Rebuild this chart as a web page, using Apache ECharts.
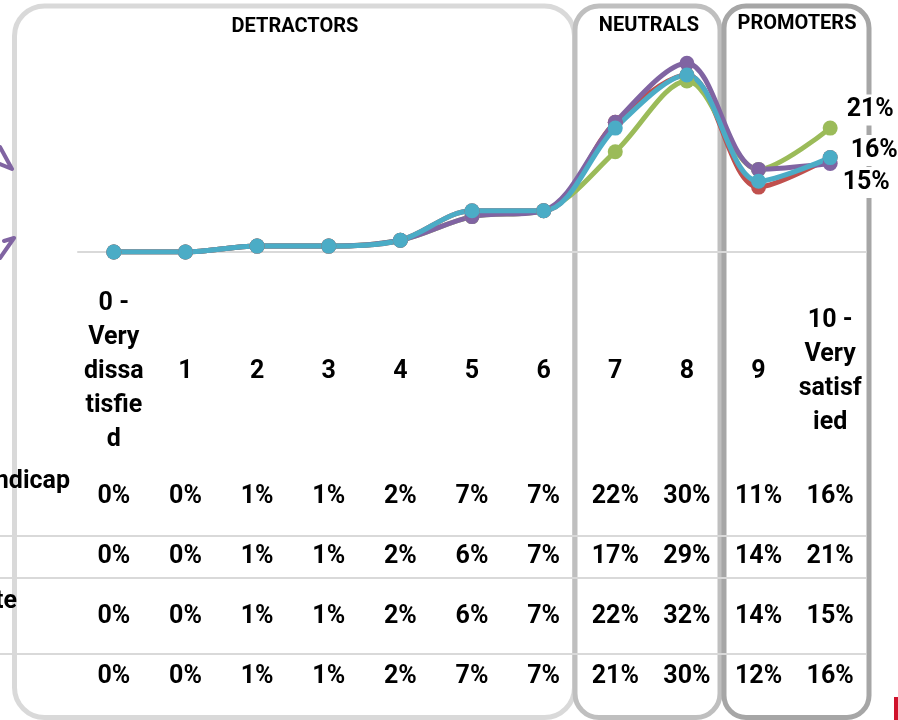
<!DOCTYPE html>
<html>
<head>
<meta charset="utf-8">
<script src="https://cdn.jsdelivr.net/npm/echarts@6/dist/echarts.min.js"></script>
<style>
html,body{margin:0;padding:0;background:#fff;}
#chart{width:898px;height:720px;}
</style>
</head>
<body>
<div id="chart"></div>
<script>
const categories = ['0 - Very dissatisfied','1','2','3','4','5','6','7','8','9','10 - Very satisfied'];
const tickLabels = ['0 -\nVery\ndissa\ntisfie\nd','1','2','3','4','5','6','7','8','9','10 -\nVery\nsatisf\nied'];
const rowLabels = ['ndicap','','te',''];
const seriesRed = [0,0,1,1,2,7,7,22,30,11,16];
const seriesGreen = [0,0,1,1,2,6,7,17,29,14,21];
const seriesPurple = [0,0,1,1,2,6,7,22,32,14,15];
const seriesBlue = [0,0,1,1,2,7,7,21,30,12,16];
const groupTitles = ['DETRACTORS','NEUTRALS','PROMOTERS'];

const FONT = 'Roboto';
const W = 'bold';
const FS = 25;
const rows = [seriesRed, seriesGreen, seriesPurple, seriesBlue];
const rowY = [497, 557, 617, 677];
const axisY = 252;

const chart = echarts.init(document.getElementById('chart'));

const xAxes = [{
  type: 'category', data: categories, boundaryGap: true, gridIndex: 0,
  axisLine: {show: true, lineStyle: {color: '#d9d9d9', width: 2}},
  axisTick: {show: false},
  axisLabel: {
    interval: 0, margin: 120, verticalAlign: 'middle', lineHeight: 34,
    fontFamily: FONT, fontSize: FS, fontWeight: W, color: '#000',
    formatter: (v, i) => tickLabels[i]
  }
}];
rows.forEach((r, k) => {
  xAxes.push({
    type: 'category', data: categories, boundaryGap: true, gridIndex: 0,
    position: 'bottom', offset: rowY[k] - axisY,
    axisLine: {show: false}, axisTick: {show: false}, splitLine: {show: false},
    axisLabel: {
      interval: 0, margin: 0, verticalAlign: 'middle',
      fontFamily: FONT, fontSize: FS, fontWeight: W, color: '#000',
      formatter: (v, i) => r[i] + '%'
    }
  });
});

function mkSeries(name, data, color, endLabel) {
  const d = data.map((v, i) => {
    if (i === data.length - 1 && endLabel) {
      return {value: v, label: Object.assign({
        show: true, position: 'right', formatter: '{c}%',
        fontFamily: FONT, fontSize: FS, fontWeight: W, color: '#000',
        backgroundColor: '#fff', padding: [3, 2, 3, 2]
      }, endLabel)};
    }
    return v;
  });
  return {
    name: name, type: 'line', data: d, smooth: 0.33,
    symbol: 'circle', symbolSize: 15,
    lineStyle: {color: color, width: 5},
    itemStyle: {color: color},
    emphasis: {disabled: true},
    z: 3
  };
}

const graphics = [
  {type: 'rect', z: 0, shape: {x: 14.5, y: 6, width: 560, height: 711.5, r: 30}, style: {fill: 'none', stroke: '#d9d9d9', lineWidth: 5}},
  {type: 'rect', z: 0, shape: {x: 575, y: 6, width: 145, height: 711.5, r: 24}, style: {fill: 'none', stroke: '#bfbfbf', lineWidth: 5}},
  {type: 'rect', z: 0, shape: {x: 724, y: 6, width: 145, height: 711.5, r: 22}, style: {fill: 'none', stroke: '#a6a6a6', lineWidth: 5}},
  {type: 'line', z: 0, shape: {x1: 0, y1: 536, x2: 866, y2: 536}, style: {stroke: '#d9d9d9', lineWidth: 2}},
  {type: 'line', z: 0, shape: {x1: 0, y1: 578, x2: 866, y2: 578}, style: {stroke: '#d9d9d9', lineWidth: 2}},
  {type: 'line', z: 0, shape: {x1: 0, y1: 654, x2: 866, y2: 654}, style: {stroke: '#d9d9d9', lineWidth: 2}},
  {type: 'text', z: 1, x: 295, y: 27, style: {text: groupTitles[0], fontFamily: FONT, fontSize: 20, fontWeight: W, fill: '#000', align: 'center', verticalAlign: 'middle'}},
  {type: 'text', z: 1, x: 649, y: 26, style: {text: groupTitles[1], fontFamily: FONT, fontSize: 20, fontWeight: W, fill: '#000', align: 'center', verticalAlign: 'middle'}},
  {type: 'text', z: 1, x: 797, y: 24, style: {text: groupTitles[2], fontFamily: FONT, fontSize: 20, fontWeight: W, fill: '#000', align: 'center', verticalAlign: 'middle'}},
  {type: 'text', z: 1, x: 70, y: 482, style: {text: rowLabels[0], fontFamily: FONT, fontSize: FS, fontWeight: W, fill: '#000', align: 'right', verticalAlign: 'middle'}},
  {type: 'text', z: 1, x: 17, y: 602, style: {text: rowLabels[2], fontFamily: FONT, fontSize: FS, fontWeight: W, fill: '#000', align: 'right', verticalAlign: 'middle'}},
  {type: 'polyline', z: 1, shape: {points: [[0, 147], [12, 169], [0, 164]]}, style: {fill: 'none', stroke: '#8064a2', lineWidth: 4, lineJoin: 'round', lineCap: 'round'}},
  {type: 'polyline', z: 1, shape: {points: [[0, 258], [14, 238], [4, 241]]}, style: {fill: 'none', stroke: '#8064a2', lineWidth: 4, lineJoin: 'round', lineCap: 'round'}},
  {type: 'rect', z: 1, shape: {x: 894, y: 697, width: 4, height: 23}, style: {fill: '#d0112b'}}
];

chart.setOption({
  animation: false,
  backgroundColor: '#fff',
  grid: {left: 78, right: 32, top: 45.5, bottom: 720 - axisY},
  xAxis: xAxes,
  yAxis: {type: 'value', min: 0, max: 35, show: false, splitLine: {show: false}},
  graphic: graphics,
  series: [
    mkSeries('Row 1', seriesRed, '#c0504d', null),
    mkSeries('Row 2', seriesGreen, '#9bbb59', {distance: 7, offset: [0, -18]}),
    mkSeries('Row 3', seriesPurple, '#8064a2', {distance: 3, offset: [0, 19]}),
    mkSeries('Row 4', seriesBlue, '#4bacc6', {distance: 11, offset: [0, -7]})
  ]
});
</script>
</body>
</html>
